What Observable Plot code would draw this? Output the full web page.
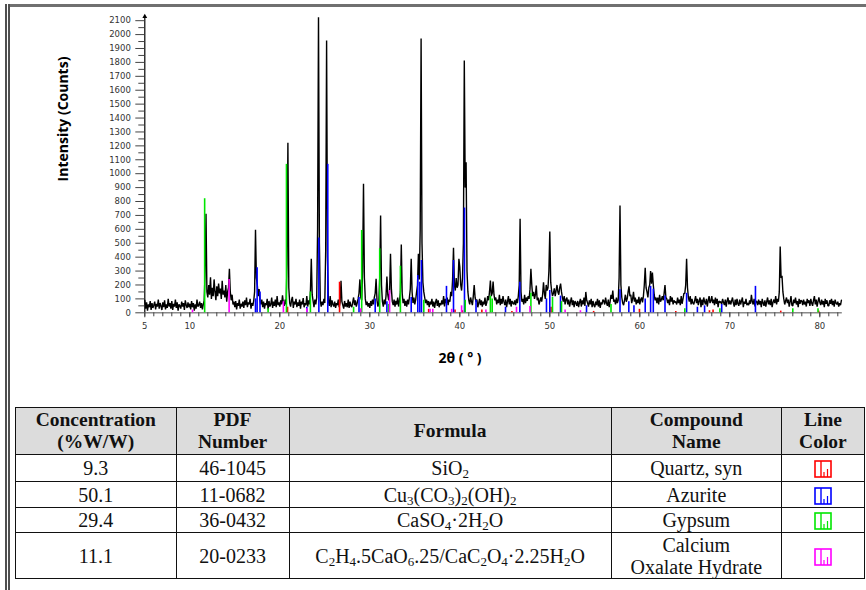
<!DOCTYPE html>
<html>
<head>
<meta charset="utf-8">
<script src="https://cdn.jsdelivr.net/npm/d3@7"></script>
<script src="https://cdn.jsdelivr.net/npm/@observablehq/plot@0.6"></script>
<style>
  html, body { margin: 0; padding: 0; background: #fff; }
  #page { position: relative; width: 866px; height: 590px; overflow: hidden; background: #fff; }
  #chart { position: absolute; left: 0; top: 0; }
  .topline { position: absolute; left: 9px; top: 4px; width: 857px; height: 0; border-top: 3px solid #707070; }
  .leftline { position: absolute; left: 5px; top: 4px; width: 0; height: 590px; border-left: 5px double #505050; }
  .axtitle { position: absolute; font-family: "Open Sans", sans-serif; font-weight: bold; color: #000; white-space: nowrap; }
  #ytitle { left: 62px; top: 119px; font-size: 14px; transform: translate(-50%, -50%) rotate(-90deg); }
  #xtitle { left: 460px; top: 357px; font-size: 14px; transform: translate(-50%, -50%); }
  table.info { position: absolute; left: 15px; top: 407px; width: 850px; border-collapse: collapse;
    font-family: "Liberation Serif", "Times New Roman", serif; color: #111; }
  table.info td, table.info th { border: 1.4px solid #111; text-align: center; padding: 0; }
  table.info th { background: #dcdcdc; font-weight: bold; font-size: 19.5px; line-height: 22px; height: 46px; }
  table.info td { font-size: 20px; line-height: 22px; }
  table.info sub { font-size: 13px; vertical-align: -3px; line-height: 0; }
</style>
</head>
<body>
<div id="page">
  <div id="chart"></div>
  <div class="axtitle" id="ytitle"></div>
  <div class="axtitle" id="xtitle"></div>
  <div class="topline"></div>
  <div class="leftline"></div>
  <div id="tablewrap"></div>
</div>
<script>
// ---------- data ----------
const thetaStart = 5;
const thetaStep = 0.1;
// measured pattern intensity (counts), one value per 0.1° from 5.0° to 82.4° (one row per degree)
const intensity = [
  90, 30, 75, 15, 60, 40, 85, 20, 70, 35,        // 5
  55, 80, 25, 65, 45, 95, 30, 70, 50, 20,        // 6
  75, 40, 90, 25, 60, 35, 100, 45, 70, 30,       // 7
  85, 20, 65, 45, 95, 35, 75, 15, 60, 50,        // 8
  30, 80, 45, 70, 20, 90, 55, 35, 75, 40,        // 9
  65, 25, 85, 40, 70, 15, 60, 30, 95, 45,        // 10
  55, 80, 35, 70, 25, 60, 90, 300, 712, 150,     // 11
  110, 200, 130, 255, 100, 180, 120, 240, 150, 90, // 12
  190, 120, 210, 140, 175, 100, 230, 130, 160, 110, // 13
  200, 80, 150, 180, 316, 150, 90, 130, 60, 80,  // 14
  40, 85, 25, 70, 50, 95, 30, 65, 45, 80,        // 15
  35, 90, 55, 110, 40, 75, 60, 100, 30, 70,      // 16
  50, 85, 150, 597, 250, 200, 120, 170, 90, 60,  // 17
  95, 40, 80, 30, 70, 55, 100, 25, 85, 45,       // 18
  60, 110, 35, 80, 50, 95, 40, 120, 55, 75,      // 19
  45, 90, 60, 125, 70, 50, 95, 60, 350, 1223,    // 20
  180, 70, 45, 90, 115, 35, 80, 60, 100, 40,     // 21
  75, 50, 95, 30, 80, 60, 105, 40, 70, 55,       // 22
  120, 45, 90, 60, 150, 388, 130, 85, 40, 95,    // 23
  60, 110, 600, 2125, 500, 90, 45, 80, 55, 100,  // 24
  70, 450, 1957, 400, 85, 50, 120, 40, 90, 60,   // 25
  45, 80, 35, 70, 55, 95, 40, 75, 230, 80,       // 26
  55, 30, 85, 45, 70, 40, 95, 35, 80, 50,        // 27
  40, 75, 110, 55, 90, 45, 70, 100, 140, 240,    // 28
  110, 90, 300, 928, 250, 100, 55, 80, 45, 70,   // 29
  35, 85, 50, 95, 60, 110, 140, 245, 90, 45,     // 30
  70, 250, 700, 200, 80, 45, 95, 60, 120, 260,   // 31
  130, 90, 150, 424, 170, 80, 55, 95, 45, 85,    // 32
  60, 110, 45, 90, 150, 491, 140, 70, 100, 50,   // 33
  85, 45, 95, 60, 110, 170, 388, 150, 70, 110,   // 34
  60, 95, 150, 200, 424, 240, 600, 1971, 500, 220, // 35
  150, 110, 70, 95, 55, 85, 40, 80, 60, 100,     // 36
  45, 80, 35, 75, 100, 50, 90, 40, 70, 55,       // 37
  90, 60, 120, 45, 100, 70, 110, 55, 95, 80,     // 38
  150, 120, 240, 467, 200, 160, 250, 180, 200, 388, // 39
  330, 200, 160, 250, 500, 1813, 900, 1083, 300, 150, // 40
  90, 60, 110, 80, 55, 120, 200, 110, 80, 95,    // 41
  40, 70, 100, 55, 90, 45, 80, 60, 110, 50,      // 42
  75, 120, 90, 150, 232, 120, 140, 225, 130, 90, // 43
  110, 60, 95, 70, 130, 55, 100, 65, 120, 80,    // 44
  55, 95, 40, 80, 120, 60, 100, 45, 85, 70,      // 45
  60, 90, 55, 100, 70, 120, 200, 676, 150, 80,   // 46
  100, 60, 130, 70, 110, 85, 120, 100, 170, 316, // 47
  200, 120, 150, 100, 130, 196, 90, 110, 60, 85, // 48
  110, 80, 130, 220, 140, 100, 200, 160, 180, 300, // 49
  585, 220, 160, 120, 140, 175, 120, 160, 200, 150, // 50
  130, 180, 210, 150, 110, 80, 120, 60, 95, 110, // 51
  60, 95, 45, 80, 110, 55, 90, 40, 85, 70,       // 52
  50, 85, 40, 75, 100, 45, 90, 60, 110, 50,      // 53
  150, 90, 70, 45, 90, 60, 100, 40, 85, 55,      // 54
  40, 80, 55, 100, 45, 90, 35, 75, 60, 95,       // 55
  85, 60, 110, 70, 50, 95, 40, 80, 130, 100,     // 56
  160, 80, 95, 60, 110, 70, 90, 250, 772, 200,   // 57
  110, 70, 55, 90, 130, 80, 100, 150, 190, 120,  // 58
  130, 70, 100, 150, 80, 110, 60, 95, 70, 115,   // 59
  60, 95, 110, 75, 120, 200, 323, 180, 150, 110, // 60
  180, 200, 300, 210, 290, 200, 130, 90, 110, 70, // 61
  110, 60, 130, 80, 95, 120, 90, 140, 200, 110,  // 62
  100, 70, 95, 55, 120, 80, 110, 60, 90, 75,     // 63
  80, 60, 110, 70, 95, 55, 120, 65, 100, 140,    // 64
  140, 200, 388, 180, 110, 80, 120, 60, 100, 70, // 65
  60, 90, 120, 70, 100, 55, 85, 110, 40, 95,     // 66
  55, 110, 80, 60, 100, 45, 90, 120, 70, 85,     // 67
  120, 70, 95, 55, 110, 65, 100, 40, 85, 75,     // 68
  80, 60, 100, 75, 55, 95, 45, 85, 110, 60,      // 69
  90, 60, 85, 110, 70, 45, 95, 55, 100, 65,      // 70
  50, 95, 60, 85, 110, 40, 80, 65, 100, 55,      // 71
  70, 55, 90, 65, 130, 80, 60, 100, 45, 85,      // 72
  80, 55, 95, 60, 85, 40, 100, 70, 50, 90,       // 73
  45, 80, 110, 60, 90, 55, 100, 40, 75, 95,      // 74
  70, 120, 60, 100, 80, 150, 477, 250, 266, 150, // 75
  100, 60, 85, 110, 70, 95, 45, 80, 120, 55,     // 76
  50, 95, 70, 110, 60, 85, 40, 100, 65, 90,      // 77
  85, 55, 95, 60, 80, 45, 100, 70, 90, 50,       // 78
  100, 70, 50, 90, 120, 60, 95, 45, 80, 110,     // 79
  75, 55, 95, 60, 85, 40, 100, 65, 90, 50,       // 80
  50, 90, 65, 100, 55, 85, 45, 95, 70, 60,       // 81
  80, 45, 70, 55, 90                             // 82
];

// reference stick lines [2θ, intensity]
const quartzLines = [[20.86, 40], [26.64, 220], [36.54, 25], [39.47, 20], [40.29, 15], [42.45, 20],
  [45.79, 10], [50.14, 40], [54.87, 10], [59.96, 25], [64.0, 10], [67.74, 15], [68.14, 20], [75.66, 12], [79.88, 12]];
const azuriteLines = [[17.3, 100], [17.48, 324], [17.8, 150], [23.0, 40], [24.34, 537], [25.33, 1067],
  [28.8, 110], [30.6, 100], [31.9, 80], [34.6, 110], [35.33, 268], [35.55, 220], [35.74, 376], [38.52, 190],
  [39.3, 376], [40.52, 753], [41.8, 90], [45.08, 40], [46.67, 220], [49.63, 100], [50.0, 160], [51.19, 120],
  [54.08, 50], [57.8, 165], [58.78, 80], [59.35, 50], [60.6, 100], [61.2, 190], [61.5, 170], [62.8, 120],
  [65.2, 140], [66.4, 40], [67.2, 50], [69.1, 60], [72.85, 190]];
const gypsumLines = [[11.65, 820], [18.7, 30], [20.74, 1067], [23.4, 150], [28.2, 40], [29.1, 592], [31.1, 460],
  [32.1, 60], [33.4, 335], [36.0, 90], [40.6, 90], [43.4, 120], [43.6, 100], [47.9, 140], [50.3, 110],
  [51.3, 80], [56.8, 60], [65.0, 30], [68.9, 30], [77.0, 30], [79.8, 30]];
const oxalateLines = [[10.3, 20], [14.37, 240], [20.4, 80], [23.0, 30], [29.0, 30], [32.2, 160], [36.7, 25],
  [37.0, 25], [39.1, 25], [40.2, 50], [42.9, 20], [46.3, 40], [47.8, 45], [51.7, 20], [53.4, 15]];

const phaseColors = { quartz: "#ff0000", azurite: "#0000ff", gypsum: "#00e600", oxalate: "#ff00ff" };

const xDomain = [5, 82.5];
const yDomain = [0, 2130];
const xTickLabels = [5, 10, 20, 30, 40, 50, 60, 70, 80];
const xMinorTicks = d3.range(5, 83, 1);
const yTickLabels = d3.range(0, 2101, 100);
const yMinorTicks = d3.range(50, 2100, 100);

const xTitle = "2θ ( ° )";
const yTitle = "Intensity (Counts)";

// table
const concentration = ["9.3", "50.1", "29.4", "11.1"];
const pdfNumber = ["46-1045", "11-0682", "36-0432", "20-0233"];
const formulaHtml = ["SiO<sub>2</sub>", "Cu<sub>3</sub>(CO<sub>3</sub>)<sub>2</sub>(OH)<sub>2</sub>",
  "CaSO<sub>4</sub>·2H<sub>2</sub>O", "C<sub>2</sub>H<sub>4</sub>.5CaO<sub>6</sub>.25/CaC<sub>2</sub>O<sub>4</sub>·2.25H<sub>2</sub>O"];
const compoundName = ["Quartz, syn", "Azurite", "Gypsum", "Calcium<br>Oxalate Hydrate"];
const lineColor = [phaseColors.quartz, phaseColors.azurite, phaseColors.gypsum, phaseColors.oxalate];

// ---------- chart ----------
const pattern = intensity.map((v, i) => ({ theta: thetaStart + i * thetaStep, counts: v }));
const sticks = [
  ...quartzLines.map(([t, v]) => ({ theta: t, counts: v, phase: "quartz" })),
  ...azuriteLines.map(([t, v]) => ({ theta: t, counts: v, phase: "azurite" })),
  ...gypsumLines.map(([t, v]) => ({ theta: t, counts: v, phase: "gypsum" })),
  ...oxalateLines.map(([t, v]) => ({ theta: t, counts: v, phase: "oxalate" }))
];

const chart = Plot.plot({
  width: 866,
  height: 390,
  marginTop: 16,
  marginBottom: 77.7,
  marginLeft: 144.3,
  marginRight: 24.2,
  style: { fontFamily: "DejaVu Sans, sans-serif", fontSize: "8.5px", color: "#333", background: "transparent" },
  x: { domain: xDomain },
  y: { domain: yDomain },
  marks: [
    Plot.ruleY([0], { stroke: "#8a8a8a", strokeWidth: 1.5 }),
    Plot.line(pattern, { x: "theta", y: "counts", stroke: "#000", strokeWidth: 1.4, strokeLinejoin: "miter" }),
    Plot.ruleX(sticks, { x: "theta", y1: 0, y2: "counts", stroke: d => phaseColors[d.phase], strokeWidth: 1.6 }),
    Plot.ruleX([xDomain[0]], { y1: 0, y2: yDomain[1], stroke: "#000", strokeWidth: 1.2 }),
    Plot.dot([yDomain[1]], { x: xDomain[0], y: d => d, symbol: "triangle", r: 1.8, fill: "#000", stroke: null }),
    Plot.axisY({ ticks: yTickLabels, tickSize: 9, tickPadding: 5, tickFormat: d => String(d), stroke: "#444", fill: "#333", label: null }),
    Plot.axisY({ ticks: yMinorTicks, tickSize: 6, tickFormat: () => "", stroke: "#444", label: null }),
    Plot.axisX({ ticks: xTickLabels, tickSize: 5, tickPadding: 5, tickFormat: d => String(d), stroke: "#444", fill: "#333", label: null }),
    Plot.axisX({ ticks: xMinorTicks, tickSize: 4, tickFormat: () => "", stroke: "#444", label: null })
  ]
});
document.getElementById("chart").appendChild(chart);
document.getElementById("xtitle").textContent = xTitle;
document.getElementById("ytitle").textContent = yTitle;

// ---------- table ----------
function icon(color) {
  return `<svg width="18" height="19" viewBox="0 0 18 19" style="display:inline-block;vertical-align:middle">
    <rect x="1" y="1" width="16" height="16" fill="none" stroke="${color}" stroke-width="1.6"/>
    <line x1="7" y1="1" x2="7" y2="17" stroke="${color}" stroke-width="1.4"/>
    <line x1="10" y1="12" x2="10" y2="17" stroke="${color}" stroke-width="1.2"/>
    <line x1="13.5" y1="9" x2="13.5" y2="17" stroke="${color}" stroke-width="1.2"/>
  </svg>`;
}
const rowHeights = [27, 26, 25, 46];
let html = `<table class="info"><colgroup>
  <col style="width:160.7px"><col style="width:113px"><col style="width:322.3px"><col style="width:170.3px"><col style="width:83.2px">
  </colgroup><tr><th>Concentration<br>(%W/W)</th><th>PDF<br>Number</th><th>Formula</th><th>Compound<br>Name</th><th>Line<br>Color</th></tr>`;
for (let i = 0; i < concentration.length; i++) {
  html += `<tr style="height:${rowHeights[i]}px"><td>${concentration[i]}</td><td>${pdfNumber[i]}</td><td>${formulaHtml[i]}</td><td>${compoundName[i]}</td><td>${icon(lineColor[i])}</td></tr>`;
}
html += `</table>`;
document.getElementById("tablewrap").innerHTML = html;
</script>
</body>
</html>
